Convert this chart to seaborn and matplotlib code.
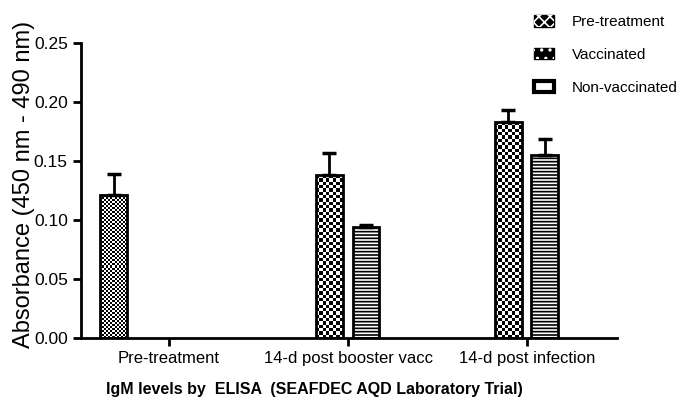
import numpy as np
import pandas as pd
import matplotlib
matplotlib.use('Agg')
import matplotlib.pyplot as plt
from matplotlib.patches import Patch
from matplotlib.legend_handler import HandlerTuple
import seaborn as sns

# values
phases = ['Pre-treatment', '14-d post booster vacc', '14-d post infection']
groups = ['Pre-treatment', 'Vaccinated', 'Non-vaccinated']
pre_mean = [0.121]
pre_err = [0.018]
vacc_mean = [0.138, 0.183]
vacc_err = [0.019, 0.010]
nonvacc_mean = [0.094, 0.155]
nonvacc_err = [0.002, 0.014]

rows = [(phases[0], groups[0], pre_mean[0], pre_err[0])]
for i in range(2):
    rows.append((phases[i + 1], groups[1], vacc_mean[i], vacc_err[i]))
    rows.append((phases[i + 1], groups[2], nonvacc_mean[i], nonvacc_err[i]))
df = pd.DataFrame(rows, columns=['phase', 'group', 'value', 'err'])

sns.set_style('ticks')
plt.rcParams['font.family'] = ['Liberation Sans', 'DejaVu Sans']
plt.rcParams['text.color'] = 'black'
plt.rcParams['axes.labelcolor'] = 'black'
plt.rcParams['xtick.color'] = 'black'
plt.rcParams['ytick.color'] = 'black'
plt.rcParams['hatch.linewidth'] = 1.2

fig = plt.figure(figsize=(6.81, 4.07), dpi=100)
ax = fig.add_axes([81 / 681, 69 / 407, 536 / 681, 295 / 407])

sns.barplot(data=df, x='phase', y='value', hue='group', order=phases, hue_order=groups,
            width=0.615, gap=0.27, dodge=True, errorbar=None, palette=['white'] * 3,
            edgecolor='black', linewidth=2, legend=False, ax=ax)


def checker(ax, bar, ncols, cell_h):
    x0, w, h = bar.get_x(), bar.get_width(), bar.get_height()
    nrows = max(1, int(round(h / cell_h)))
    board = (np.add.outer(np.arange(nrows), np.arange(ncols)) % 2).astype(float)
    im = ax.imshow(board, cmap='gray', extent=(x0, x0 + w, 0, h), aspect='auto',
                   interpolation='nearest', zorder=0.9, origin='lower')
    im.set_clip_path(bar)
    bar.set_facecolor('none')


for grp, cont in zip(groups, ax.containers):
    sub = df[df['group'] == grp]
    for bar in cont.patches:
        if bar.get_height() == 0 or np.isnan(bar.get_height()):
            continue
        cx = bar.get_x() + bar.get_width() / 2
        phase = phases[int(round(cx))]
        e = sub.loc[sub['phase'] == phase, 'err'].values[0]
        ax.errorbar(cx, bar.get_height(), yerr=[[0], [e]], color='black', lw=2,
                    capsize=5, capthick=2.5, zorder=3)
        if grp == 'Pre-treatment':
            checker(ax, bar, 13, 0.0017)
        elif grp == 'Vaccinated':
            checker(ax, bar, 8, 0.0028)
        else:
            bar.set_hatch('-----')

ax.set_xticks([i + 0.105 for i in range(3)])
ax.set_xticklabels(phases, fontsize=12)
ax.set_xlim(-0.387, 2.608)
ax.set_ylim(0, 0.25)
ax.set_yticks([0, 0.05, 0.10, 0.15, 0.20, 0.25])
ax.set_yticklabels(['0.00', '0.05', '0.10', '0.15', '0.20', '0.25'], fontsize=12.5)
ax.tick_params(width=2, length=6, color='black', direction='out')
for s in ['left', 'bottom']:
    ax.spines[s].set_linewidth(2)
    ax.spines[s].set_color('black')
sns.despine(ax=ax)
ax.set_ylabel('Absorbance (450 nm - 490 nm)', fontsize=17)
ax.yaxis.set_label_coords(-0.085, 0.52)
ax.set_xlabel('IgM levels by  ELISA  (SEAFDEC AQD Laboratory Trial)', fontsize=11.5,
              fontweight='bold')
ax.xaxis.set_label_coords(0.436, -0.148)

black = Patch(facecolor='black', edgecolor='black', linewidth=1)
handles = [(black, Patch(facecolor='none', edgecolor='white', linewidth=0, hatch='xxx')),
           (black, Patch(facecolor='none', edgecolor='white', linewidth=0, hatch='..')),
           Patch(facecolor='white', edgecolor='black', linewidth=3, hatch='-')]
fig.legend(handles, groups, loc='upper left', bbox_to_anchor=(520 / 681, 0.997),
           frameon=False, fontsize=11, handlelength=1.3, handleheight=0.8,
           labelspacing=1.22, handletextpad=1.18,
           handler_map={tuple: HandlerTuple(ndivide=1, pad=0)})

fig.savefig('out.png', dpi=100)
